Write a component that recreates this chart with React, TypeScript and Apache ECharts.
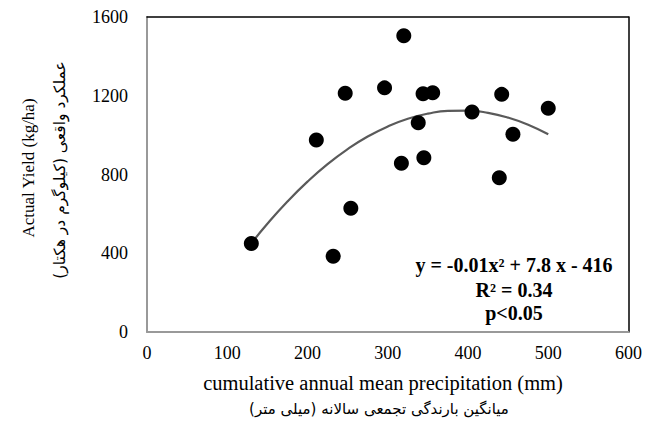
import React, { useEffect, useRef } from "react";
import * as echarts from "echarts";

const precip = [130, 232, 254, 211, 247, 296, 320, 317, 338, 345, 344, 356, 405, 442, 439, 456, 500];
const yieldVals = [450, 385, 628, 975, 1213, 1240, 1505, 857, 1063, 885, 1210, 1215, 1118, 1207, 783, 1005, 1137];
const trendX = [130, 150, 175, 200, 225, 250, 275, 300, 325, 350, 375, 400, 425, 450, 475, 500];
const trendY = [450, 550, 663, 764, 853, 929, 993, 1044, 1083, 1109, 1123, 1124, 1113, 1089, 1053, 1004];
const xTicks = [0, 100, 200, 300, 400, 500, 600];
const yTicks = [0, 400, 800, 1200, 1600];
const annotation = ["y = -0.01x\u00b2 + 7.8 x - 416", "R\u00b2 = 0.34", "p<0.05"];

const SERIF = "Liberation Serif";
const FA = "DejaVu Sans";

export default function App() {
  const ref = useRef<HTMLDivElement>(null);
  useEffect(() => {
    if (!ref.current) return;
    const chart = echarts.init(ref.current, null, { renderer: "svg" });
    const hidden = { show: false };
    chart.setOption({
      animation: false,
      backgroundColor: "#fff",
      grid: { left: 147, right: 15, top: 17, bottom: 104 },
      xAxis: [
        {
          type: "value",
          min: xTicks[0],
          max: xTicks[xTicks.length - 1],
          interval: 100,
          axisLine: { show: true, lineStyle: { color: "#999", width: 2 } },
          axisTick: hidden,
          splitLine: hidden,
          axisLabel: { fontFamily: SERIF, fontSize: 18, color: "#000", margin: 12, formatter: (v: number) => String(v) },
        },
        {
          type: "value",
          position: "top",
          min: xTicks[0],
          max: xTicks[xTicks.length - 1],
          interval: 100,
          axisLine: { show: true, onZero: false, lineStyle: { color: "#000", width: 1.5 } },
          axisTick: hidden,
          splitLine: hidden,
          axisLabel: hidden,
        },
      ],
      yAxis: [
        {
          type: "value",
          min: yTicks[0],
          max: yTicks[yTicks.length - 1],
          interval: 400,
          axisLine: { show: true, lineStyle: { color: "#999", width: 2 } },
          axisTick: hidden,
          splitLine: hidden,
          axisLabel: { fontFamily: SERIF, fontSize: 18, color: "#000", margin: 19, formatter: (v: number) => String(v) },
        },
        {
          type: "value",
          position: "right",
          min: yTicks[0],
          max: yTicks[yTicks.length - 1],
          interval: 400,
          axisLine: { show: true, onZero: false, lineStyle: { color: "#000", width: 1.5 } },
          axisTick: hidden,
          splitLine: hidden,
          axisLabel: hidden,
        },
      ],
      series: [
        {
          type: "line",
          data: trendX.map((x, i) => [x, trendY[i]]),
          smooth: true,
          showSymbol: false,
          lineStyle: { color: "#5a5a5a", width: 2.2 },
          z: 1,
        },
        {
          type: "scatter",
          data: precip.map((x, i) => [x, yieldVals[i]]),
          symbolSize: 15,
          itemStyle: { color: "#000", opacity: 1 },
          z: 2,
        },
      ],
      graphic: [
        {
          type: "text", x: 28, y: 168, rotation: Math.PI / 2,
          style: { text: "Actual Yield (kg/ha)", font: `17px ${SERIF}`, fill: "#000", align: "center", verticalAlign: "middle" },
        },
        {
          type: "text", x: 60, y: 170, rotation: Math.PI / 2,
          style: { text: "عملکرد واقعی (کیلوگرم در هکتار)", font: `15.5px ${FA}`, fill: "#000", align: "center", verticalAlign: "middle" },
        },
        {
          type: "text", x: 383, y: 383,
          style: { text: "cumulative annual mean precipitation (mm)", font: `20.5px ${SERIF}`, fill: "#000", align: "center", verticalAlign: "middle" },
        },
        {
          type: "text", x: 379, y: 409,
          style: { text: "میانگین بارندگی تجمعی سالانه (میلی متر)", font: `15px ${FA}`, fill: "#000", align: "center", verticalAlign: "middle" },
        },
        ...annotation.map((t, i) => ({
          type: "text", x: 514, y: [265, 290, 313][i],
          style: { text: t, font: `bold 20px ${SERIF}`, fill: "#000", align: "center", verticalAlign: "middle" },
        })),
      ],
    });
    return () => chart.dispose();
  }, []);
  return <div ref={ref} style={{ position: "absolute", left: 0, top: 0, width: 645, height: 436 }} />;
}
